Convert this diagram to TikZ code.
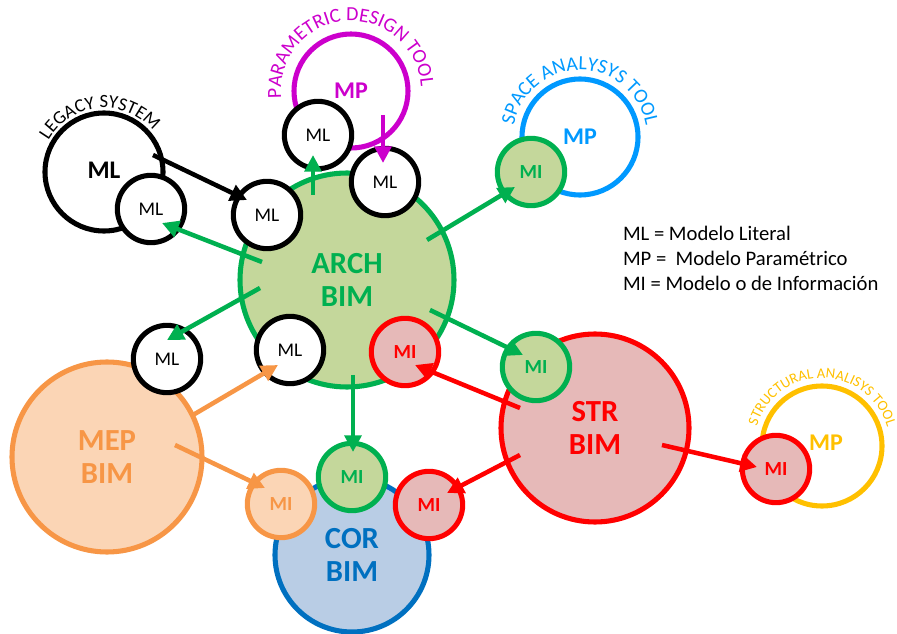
\documentclass[tikz,border=0pt]{standalone}
\usepackage{fontspec}
\setmainfont{Carlito}
\usetikzlibrary{calc,arrows.meta,decorations.text}
\definecolor{cgreen}{HTML}{00B050}
\definecolor{fgreen}{HTML}{C4D79B}
\definecolor{cred}{HTML}{FF0000}
\definecolor{fred}{HTML}{E6B9B8}
\definecolor{corange}{HTML}{F79646}
\definecolor{forange}{HTML}{FBD5B5}
\definecolor{cblue}{HTML}{0070C0}
\definecolor{fblue}{HTML}{B9CDE5}
\definecolor{cpurple}{HTML}{CC00CC}
\definecolor{csky}{HTML}{0099FF}
\definecolor{cyellow}{HTML}{FFC000}
\begin{document}
\begin{tikzpicture}[x=0.75pt,y=0.75pt,
 every node/.style={inner sep=0pt, outer sep=0pt},
 bigc/.style={circle, draw, line width=3.8pt, align=center, font=\bfseries\fontsize{23}{25}\selectfont},
 smc/.style={circle, draw, line width=3.8pt, minimum size=50.5pt, font=\fontsize{14.5}{16}\selectfont},
 mic/.style={smc, font=\bfseries\fontsize{15}{17}\selectfont},
 mpc/.style={circle, draw, line width=3.8pt, font=\bfseries\fontsize{18}{19}\selectfont},
 arr/.style={line width=3.4pt, -{Triangle[length=12.5pt,width=12.5pt]}},
]
\useasboundingbox (0,0) rectangle (897,633);

% tool circles
\node[mpc, draw=cpurple, text=cpurple, minimum size=85.5pt] (pdMP) at (351,542) {MP};
\node[mpc, draw=csky, text=csky, minimum size=87pt] (saMP) at (580,496) {MP};
\node[mpc, draw=cyellow, text=cyellow, minimum size=90pt] (stMP) at (822,187) {\hspace*{0pt}};
\node[text=cyellow, font=\bfseries\fontsize{18}{19}\selectfont] (stMPt) at (826,190) {MP};

% legacy
\node[circle, draw, line width=3.8pt, minimum size=88.5pt] (legB) at (104,461) {};
\node[font=\bfseries\fontsize{19}{20}\selectfont] (legBt) at (104,463) {ML};
\node[smc, fill=white] (legS) at (151,424) {ML};

% big BIM circles
\node[bigc, draw=cgreen, fill=fgreen, text=cgreen, minimum size=160.5pt] (arch) at (347,353) {ARCH\\BIM};
\node[bigc, draw=corange, fill=forange, text=corange, minimum size=142.5pt] (mep) at (107,176) {MEP\\BIM};
\node[bigc, draw=cred, fill=fred, text=cred, minimum size=141pt] (str) at (595,205) {STR\\BIM};
\node[bigc, draw=cblue, fill=fblue, text=cblue, minimum size=115.5pt] (cor) at (352,78) {COR\\BIM};

% small ML circles
\node[smc, fill=white] (mlTop) at (318,498) {ML};
\node[smc, fill=white] (mlTopR) at (385,451) {ML};
\node[smc, fill=white] (mlL) at (267,418) {ML};
\node[smc, fill=white] (mlW) at (167,274) {ML};
\node[smc, fill=white] (mlS) at (290,283) {ML};

% MI circles
\node[mic, draw=cgreen, fill=fgreen, text=cgreen] (saMI) at (531,461) {MI};
\node[mic, draw=cred, fill=fred, text=cred] (miR) at (405,281) {MI};
\node[mic, draw=cgreen, fill=fgreen, text=cgreen] (miG) at (536,266) {MI};
\node[mic, draw=cred, fill=fred, text=cred] (stMI) at (776,164) {MI};
\node[mic, draw=cgreen, fill=fgreen, text=cgreen] (miB) at (352,156) {MI};
\node[mic, draw=corange, fill=forange, text=corange] (miO) at (281,129) {MI};
\node[mic, draw=cred, fill=fred, text=cred] (miR2) at (429,128) {MI};

% curved labels
\path[decorate, decoration={text along path, text align=center, text={|\fontsize{14}{16}\selectfont|LEGACY SYSTEM}}]
  ($(legB)+(170:64)$) arc[start angle=170, end angle=20, radius=64];
\path[decorate, decoration={text along path, text align=center, text color=cpurple, text={|\fontsize{15}{17}\selectfont|PARAMETRIC DESIGN TOOL}}]
  ($(pdMP)+(210:70)$) arc[start angle=210, end angle=-21, radius=70];
\path[decorate, decoration={text along path, text align=center, text color=csky, text={|\fontsize{15}{17}\selectfont|SPACE ANALYSYS TOOL}}]
  ($(saMP)+(195:67)$) arc[start angle=195, end angle=-15, radius=67];
\path[decorate, decoration={text along path, text align=center, text color=cyellow, text={|\fontsize{11}{13}\selectfont|STRUCTURAL ANALISYS TOOL}}]
  ($(stMP)+(190:68)$) arc[start angle=190, end angle=-11, radius=68];

% connectors
\draw[arr] ($(legB)+(49,17)$) -- ($(mlL)+(-20,15)$);
\draw[arr, draw=cpurple, fill=cpurple] ($(pdMP)+(32,-24)$) -- ($(mlTopR)+(-2,19)$);
\draw[arr, draw=cgreen, fill=cgreen] ($(arch)+(-85,18)$) -- ($(legS)+(11,-14)$);
\draw[arr, draw=cgreen, fill=cgreen] ($(arch)+(-34,85)$) -- ($(mlTop)+(-5,-20)$);
\draw[arr, draw=cgreen, fill=cgreen] ($(arch)+(80,40)$) -- ($(saMI)+(-16,-15)$);
\draw[arr, draw=cgreen, fill=cgreen] ($(arch)+(-87,-8)$) -- ($(mlW)+(0,19)$);
\draw[arr, draw=cgreen, fill=cgreen] ($(arch)+(83,-30)$) -- ($(miG)+(-13,12)$);
\draw[arr, draw=cgreen, fill=cgreen] ($(arch)+(6,-95)$) -- ($(miB)+(1,25)$);
\draw[arr, draw=cred, fill=cred] ($(str)+(-75,20)$) -- ($(miR)+(10,-13)$);
\draw[arr, draw=cred, fill=cred] ($(str)+(-75,-27)$) -- ($(miR2)+(18,12)$);
\draw[arr, draw=cred, fill=cred] ($(str)+(67,-17)$) -- ($(stMI)+(-19,2)$);
\draw[arr, draw=corange, fill=corange] ($(mep)+(86,42)$) -- ($(mlS)+(-12,-15)$);
\draw[arr, draw=corange, fill=corange] ($(mep)+(68,12)$) -- ($(miO)+(-16,16)$);

% legend
\node[anchor=west, align=left, font=\fontsize{15.5}{18.75}\selectfont] (legend) at (623,375)
  {ML = Modelo Literal\\MP = \ Modelo Paramétrico\\MI = Modelo o de Información};
\end{tikzpicture}
\end{document}
